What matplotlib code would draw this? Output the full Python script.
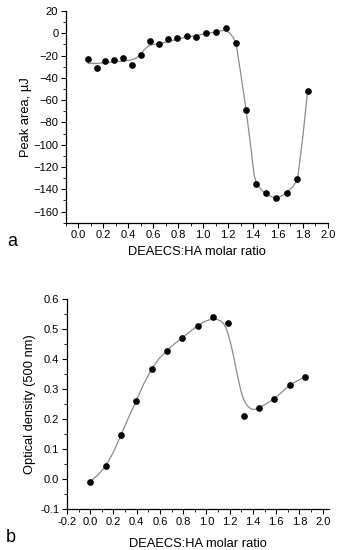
import numpy as np
import matplotlib
matplotlib.use("Agg")
import matplotlib.pyplot as plt
from matplotlib.ticker import MultipleLocator, FormatStrFormatter

plt.rcParams["font.family"] = ["Liberation Sans", "DejaVu Sans"]

# panel a - measured points
ratio_a = [0.08, 0.15, 0.216, 0.285, 0.355, 0.43, 0.50, 0.573, 0.645, 0.72, 0.79, 0.87,
           0.946, 1.02, 1.10, 1.18, 1.26, 1.34, 1.424, 1.506, 1.586, 1.67, 1.754, 1.84]
peak_area = [-22.8, -31.1, -24.9, -24.3, -21.9, -28.4, -19.8, -6.9, -9.6, -5.5, -3.9, -2.8,
             -3.0, 0.0, 1.4, 4.7, -9.0, -68.8, -135.5, -143.6, -147.4, -143.2, -131.0, -51.7]
# panel a - fitted curve
fit_x_a = [0.08, 0.15, 0.25, 0.35, 0.42, 0.46, 0.50, 0.53, 0.56, 0.60, 0.65, 0.72, 0.82,
           0.92, 1.02, 1.10, 1.15, 1.18, 1.21, 1.24, 1.264, 1.30, 1.344, 1.38, 1.41, 1.43,
           1.47, 1.51, 1.55, 1.585, 1.62, 1.67, 1.72, 1.757, 1.80, 1.838]
fit_y_a = [-27.0, -27.0, -26.0, -25.0, -24.0, -22.5, -19.0, -14.5, -11.5, -10.0, -9.3, -7.5, -4.5,
           -2.5, -0.4, 1.2, 2.4, 2.6, 0.5, -3.5, -8.7, -35.0, -68.5, -100.0, -128.0, -135.0,
           -141.0, -144.5, -146.8, -147.7, -146.5, -143.0, -137.5, -131.0, -92.0, -51.5]

# panel b - measured points
ratio_b = [0.0, 0.132, 0.264, 0.396, 0.528, 0.66, 0.792, 0.924, 1.056, 1.188, 1.32,
           1.452, 1.584, 1.716, 1.848]
optical_density = [-0.008, 0.043, 0.146, 0.261, 0.366, 0.427, 0.470, 0.510, 0.539, 0.519,
                   0.211, 0.237, 0.267, 0.313, 0.341]
# panel b - fitted curve
fit_x_b = [0.0, 0.066, 0.132, 0.2, 0.264, 0.33, 0.396, 0.46, 0.528, 0.59, 0.66, 0.726,
           0.792, 0.86, 0.924, 0.98, 1.02, 1.056, 1.09, 1.122, 1.145, 1.165, 1.185, 1.208,
           1.23, 1.251, 1.273, 1.294, 1.315, 1.337, 1.36, 1.38, 1.40, 1.423, 1.452, 1.584,
           1.716, 1.848]
fit_y_b = [-0.008, 0.014, 0.043, 0.090, 0.146, 0.205, 0.261, 0.316, 0.366, 0.400, 0.427, 0.450,
           0.470, 0.491, 0.510, 0.523, 0.529, 0.532, 0.531, 0.526, 0.518, 0.505, 0.484, 0.452,
           0.414, 0.374, 0.334, 0.297, 0.270, 0.252, 0.241, 0.234, 0.232, 0.233, 0.237, 0.267,
           0.313, 0.341]

fig = plt.figure(figsize=(3.38, 5.5), dpi=100)
ax1 = fig.add_axes([0.195, 0.595, 0.775, 0.385])
ax2 = fig.add_axes([0.198, 0.074, 0.774, 0.383])

line_col = "#8c8c8c"
for ax in (ax1, ax2):
    for s in ("top", "right"):
        ax.spines[s].set_visible(False)
    for s in ("left", "bottom"):
        ax.spines[s].set_linewidth(0.9)
    ax.tick_params(which="major", direction="out", length=3.5, width=0.8, labelsize=8, pad=2)
    ax.tick_params(which="minor", direction="out", length=2, width=0.6)

ax1.plot(fit_x_a, fit_y_a, color=line_col, lw=0.9, zorder=1)
ax1.plot(ratio_a, peak_area, "o", color="black", ms=3.8, zorder=2)
ax1.set_xlim(-0.1, 2.0)
ax1.set_ylim(-170, 20)
ax1.xaxis.set_major_locator(MultipleLocator(0.2))
ax1.xaxis.set_minor_locator(MultipleLocator(0.1))
ax1.yaxis.set_major_locator(MultipleLocator(20))
ax1.yaxis.set_minor_locator(MultipleLocator(10))
ax1.xaxis.set_major_formatter(FormatStrFormatter("%.1f"))
ax1.set_xlabel("DEAECS:HA molar ratio", fontsize=9.3, labelpad=4)
ax1.set_ylabel("Peak area, µJ", fontsize=9.3, labelpad=1)

ax2.plot(fit_x_b, fit_y_b, color=line_col, lw=0.9, zorder=1)
ax2.plot(ratio_b, optical_density, "o", color="black", ms=3.8, zorder=2)
ax2.set_xlim(-0.2, 2.05)
ax2.set_ylim(-0.1, 0.6)
ax2.xaxis.set_major_locator(MultipleLocator(0.2))
ax2.xaxis.set_minor_locator(MultipleLocator(0.1))
ax2.yaxis.set_major_locator(MultipleLocator(0.1))
ax2.yaxis.set_minor_locator(MultipleLocator(0.05))
ax2.xaxis.set_major_formatter(FormatStrFormatter("%.1f"))
ax2.yaxis.set_major_formatter(FormatStrFormatter("%.1f"))
ax2.set_xlabel("DEAECS:HA molar ratio", fontsize=9.3, labelpad=8)
ax2.set_ylabel("Optical density (500 nm)", fontsize=9.3, labelpad=3)

fig.text(12 / 338, 1 - 242 / 550, "a", fontsize=13, ha="center", va="center")
fig.text(11 / 338, 1 - 538 / 550, "b", fontsize=13, ha="center", va="center")

fig.savefig("out.png", dpi=100)
